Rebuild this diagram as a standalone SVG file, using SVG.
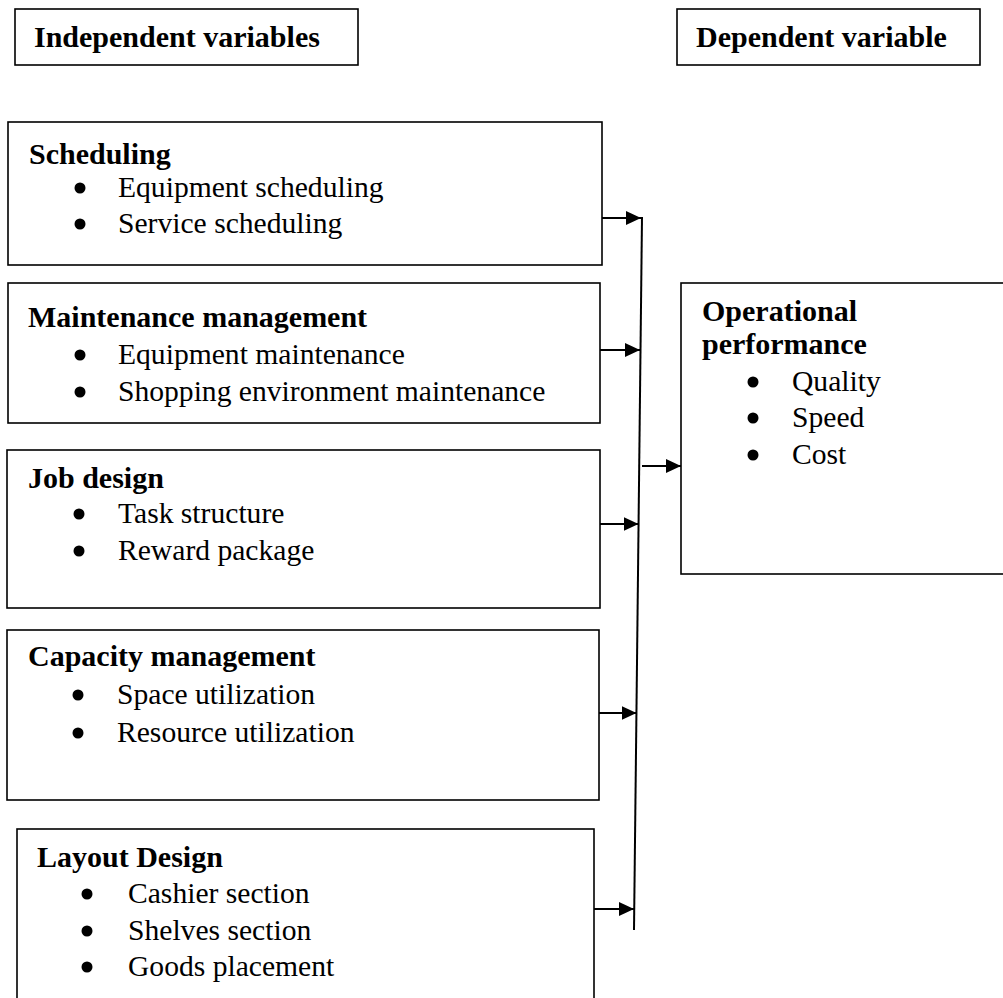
<svg xmlns="http://www.w3.org/2000/svg" width="1003" height="998" viewBox="0 0 1003 998">
<style>
  rect.box { fill: #fff; stroke: #000; stroke-width: 1.6; }
  text { font-family: "Liberation Serif", "Times New Roman", serif; fill: #000; }
  .t { font-size: 30px; font-weight: bold; }
  .i { font-size: 29.6px; }
  circle.b { fill: #000; }
  .conn { stroke: #000; stroke-width: 2; fill: none; }
</style>
<defs>
  <marker id="ah" markerUnits="userSpaceOnUse" markerWidth="15" markerHeight="14" refX="15" refY="7" orient="auto">
    <path d="M0,0 L15,7 L0,14 z" fill="#000"/>
  </marker>
</defs>
<rect width="1003" height="998" fill="#fff"/>

<g id="hdr-independent">
  <rect class="box" x="15" y="9" width="343" height="56"/>
  <text class="t" x="34" y="47">Independent variables</text>
</g>
<g id="hdr-dependent">
  <rect class="box" x="677" y="9" width="303" height="56"/>
  <text class="t" x="696" y="47">Dependent variable</text>
</g>

<g id="scheduling">
  <rect class="box" x="8" y="122" width="594" height="143"/>
  <text class="t" x="29" y="164">Scheduling</text>
  <circle class="b" cx="80" cy="188" r="5.5"/>
  <text class="i" x="118" y="197">Equipment scheduling</text>
  <circle class="b" cx="80" cy="224" r="5.5"/>
  <text class="i" x="118" y="233">Service scheduling</text>
</g>

<g id="maintenance">
  <rect class="box" x="8" y="283" width="592" height="140"/>
  <text class="t" x="28" y="327">Maintenance management</text>
  <circle class="b" cx="80" cy="355" r="5.5"/>
  <text class="i" x="118" y="364">Equipment maintenance</text>
  <circle class="b" cx="80" cy="392" r="5.5"/>
  <text class="i" x="118" y="401">Shopping environment maintenance</text>
</g>

<g id="job-design">
  <rect class="box" x="7" y="450" width="593" height="158"/>
  <text class="t" x="28" y="488">Job design</text>
  <circle class="b" cx="79" cy="514" r="5.5"/>
  <text class="i" x="118" y="523">Task structure</text>
  <circle class="b" cx="79" cy="551" r="5.5"/>
  <text class="i" x="118" y="560">Reward package</text>
</g>

<g id="capacity">
  <rect class="box" x="7" y="630" width="592" height="170"/>
  <text class="t" x="28" y="666">Capacity management</text>
  <circle class="b" cx="78" cy="695" r="5.5"/>
  <text class="i" x="117" y="704">Space utilization</text>
  <circle class="b" cx="78" cy="733" r="5.5"/>
  <text class="i" x="117" y="742">Resource utilization</text>
</g>

<g id="layout-design">
  <rect class="box" x="17" y="829" width="577" height="180"/>
  <text class="t" x="37" y="867">Layout Design</text>
  <circle class="b" cx="87" cy="894" r="5.5"/>
  <text class="i" x="128" y="903">Cashier section</text>
  <circle class="b" cx="87" cy="931" r="5.5"/>
  <text class="i" x="128" y="940">Shelves section</text>
  <circle class="b" cx="87" cy="967" r="5.5"/>
  <text class="i" x="128" y="976">Goods placement</text>
</g>

<g id="operational-performance">
  <rect class="box" x="681" y="283" width="330" height="291"/>
  <text class="t" x="702" y="321">Operational</text>
  <text class="t" x="702" y="354">performance</text>
  <circle class="b" cx="753" cy="382" r="5.5"/>
  <text class="i" x="792" y="391">Quality</text>
  <circle class="b" cx="753" cy="418" r="5.5"/>
  <text class="i" x="792" y="427">Speed</text>
  <circle class="b" cx="753" cy="455" r="5.5"/>
  <text class="i" x="792" y="464">Cost</text>
</g>

<g id="connectors">
  <line class="conn" x1="642" y1="217" x2="634" y2="930"/>
  <line class="conn" x1="602" y1="218" x2="641" y2="218" marker-end="url(#ah)"/>
  <line class="conn" x1="600" y1="350" x2="640" y2="350" marker-end="url(#ah)"/>
  <line class="conn" x1="600" y1="524" x2="638.5" y2="524" marker-end="url(#ah)"/>
  <line class="conn" x1="599" y1="713" x2="636.5" y2="713" marker-end="url(#ah)" stroke-width="3"/>
  <line class="conn" x1="594" y1="909" x2="634" y2="909" marker-end="url(#ah)"/>
  <line class="conn" x1="642" y1="466" x2="681" y2="466" marker-end="url(#ah)"/>
</g>
</svg>
